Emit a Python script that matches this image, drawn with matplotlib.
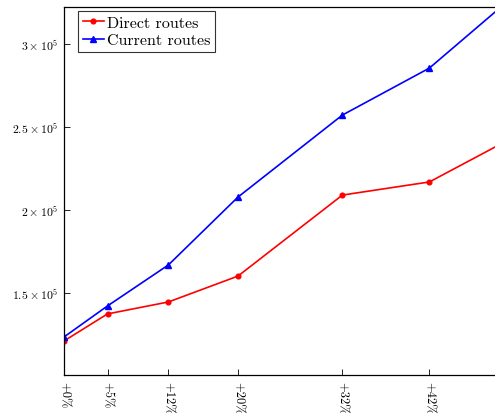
import matplotlib
matplotlib.use("Agg")
import matplotlib.pyplot as plt

x_vals = [0, 5, 12, 20, 32, 42, 50]
x_ticks = [0, 5, 12, 20, 32, 42]
x_labels = ["+0%", "+5%", "+12%", "+20%", "+32%", "+42%"]
direct = [121100, 137400, 144600, 160200, 209000, 216900, 239200]
current = [123500, 142200, 166900, 207800, 257200, 285500, 321300]
y_ticks = [150000, 200000, 250000, 300000]
y_labels = [r"$1.5\times10^5$", r"$2\times10^5$", r"$2.5\times10^5$", r"$3\times10^5$"]

plt.rcParams['mathtext.fontset'] = 'cm'
plt.rcParams['font.family'] = 'serif'
plt.rcParams['font.serif'] = ['cmr10', 'DejaVu Serif']
plt.rcParams['axes.unicode_minus'] = False

fig = plt.figure(figsize=(4.95, 4.14), dpi=100)
W, H = 495, 414
left, right, top, bottom = 64, 499, 8, 376
ax = fig.add_axes([left / W, 1 - bottom / H, (right - left) / W, (bottom - top) / H])

ax.plot(x_vals, direct, color='red', marker='o', markersize=3.4, linewidth=1.2, label='Direct routes')
ax.plot(x_vals, current, color='blue', marker='^', markersize=4.2, linewidth=1.2, label='Current routes')

ax.set_xlim(0, 50)
ax.set_ylim(100600, 322300)
ax.set_xticks(x_ticks)
ax.set_xticklabels(x_labels, rotation=-90, fontsize=9)
ax.set_yticks(y_ticks)
ax.set_yticklabels(y_labels, fontsize=8.5)
ax.tick_params(direction='in', length=4, width=0.6, top=False, right=False, pad=4)
for s in ax.spines.values():
    s.set_linewidth(0.9)

leg = ax.legend(loc='upper left', fontsize=11.5, frameon=True, fancybox=False,
                edgecolor='black', borderpad=0.3, handlelength=1.3, handletextpad=0.2,
                labelspacing=0.2, bbox_to_anchor=(14 / 435, 1 - 4 / 368),
                borderaxespad=0.0)
leg.get_frame().set_linewidth(0.8)

fig.savefig("out.png", dpi=100)
